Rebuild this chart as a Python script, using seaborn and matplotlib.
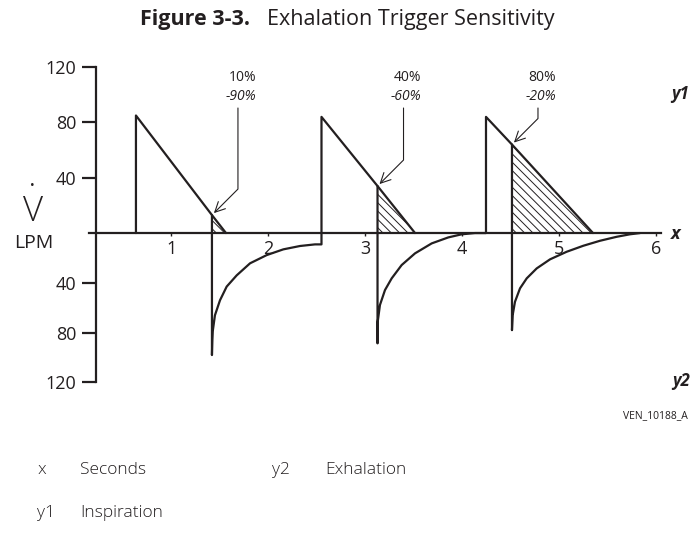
import numpy as np
import pandas as pd
import seaborn as sns
import matplotlib.pyplot as plt

# breath timing (seconds) and flow (LPM)
insp_start = [0.637, 2.551, 4.248]
insp_peak = [85, 84, 84]
trigger_t = [1.421, 3.129, 4.516]
trigger_flow = [13, 34, 64]
ramp_zero = [1.566, 3.516, 5.352]
trigger_pct = ["10%", "40%", "80%"]
trigger_neg = ["-90%", "-60%", "-20%"]

# exhalation curves (first point is the bottom of the drop at the trigger)
exh1_t = [1.421, 1.425, 1.429, 1.452, 1.504, 1.573, 1.676, 1.814, 1.986, 2.157, 2.329, 2.484, 2.551]
exh1_flow = [-98, -86, -79, -66, -54, -43, -34, -24.3, -17.7, -13.1, -10.4, -9.1, -9.1]
exh2_t = [3.129, 3.131, 3.154, 3.206, 3.275, 3.378, 3.516, 3.688, 3.859, 3.997, 4.134, 4.248]
exh2_flow = [-88.6, -71.2, -57.8, -45.8, -36.4, -25.7, -16.3, -8.3, -3.5, -1.0, 0, 0]
exh3_t = [4.516, 4.523, 4.547, 4.599, 4.668, 4.771, 4.909, 5.081, 5.252, 5.424, 5.596, 5.733, 5.837]
exh3_flow = [-78, -66, -55.2, -44.4, -36.4, -28.4, -21.1, -15.0, -10.2, -6.2, -3.0, -1.0, 0]

x_ticks = [1, 2, 3, 4, 5, 6]
y_ticks = [120, 80, 40, -40, -80, -120]
y_tick_labels = ["120", "80", "40", "40", "80", "120"]

W, H = 693, 546
INK = "#231f20"

sns.set_theme(style="white")
plt.rcParams["font.family"] = ["Open Sans", "DejaVu Sans"]
plt.rcParams["hatch.linewidth"] = 0.7

fig = plt.figure(figsize=(W / 100, H / 100), dpi=100)
ax = fig.add_axes([0, 0, 1, 1])
ax.patch.set_alpha(0)


# exhalation half of the drawing is a bit compressed in the original
def fwd(y):
    y = np.asarray(y, dtype=float)
    return np.where(y >= 0, y, 0.9 * y)


def inv(u):
    u = np.asarray(u, dtype=float)
    return np.where(u >= 0, u, u / 0.9)


ax.set_yscale("function", functions=(fwd, inv))
ax.set_xlim(-0.7654, 6.3834)
ax.set_ylim(-251.4, 168.5)

# build the trace as segments
exh_t = [exh1_t, exh2_t, exh3_t]
exh_f = [exh1_flow, exh2_flow, exh3_flow]
rows = [(0, insp_start[0], 0)]
for i in range(3):
    rows.append((0, insp_start[i], insp_peak[i]))
    rows.append((0, trigger_t[i], trigger_flow[i]))
    for t, f in zip(exh_t[i], exh_f[i]):
        rows.append((0, t, f))
for i in range(3):
    rows.append((i + 1, trigger_t[i], trigger_flow[i]))
    rows.append((i + 1, ramp_zero[i], 0))
df = pd.DataFrame(rows, columns=["seg", "t", "flow"])

sns.lineplot(data=df, x="t", y="flow", units="seg", estimator=None, sort=False,
             color=INK, lw=1.6, ax=ax, legend=False)

# hatched triangles after the trigger
for i in range(3):
    ax.fill([trigger_t[i], trigger_t[i], ramp_zero[i]], [0, trigger_flow[i], 0],
            facecolor="none", edgecolor=INK, hatch="\\\\\\\\", lw=0)

# axes
for s in ["top", "right"]:
    ax.spines[s].set_visible(False)
ax.spines["left"].set_position(("data", 0.225))
ax.spines["left"].set_bounds(-120, 120)
ax.spines["bottom"].set_position(("data", 0))
ax.spines["bottom"].set_bounds(0.15, 6.05)
for s in ["left", "bottom"]:
    ax.spines[s].set_color(INK)
    ax.spines[s].set_linewidth(1.6)

ax.set_yticks(y_ticks)
ax.set_yticklabels(y_tick_labels)
ax.set_xticks(x_ticks)
ax.set_xticklabels([str(v) for v in x_ticks])
ax.minorticks_off()
ax.tick_params(axis="y", left=True, direction="out", length=10, width=1.6,
               color=INK, labelcolor=INK, labelsize=13, pad=4)
ax.tick_params(axis="x", bottom=True, direction="out", length=2.5, width=1,
               color=INK, labelcolor=INK, labelsize=13, pad=2.5)
ax.set_xlabel("")
ax.set_ylabel("")
ax.grid(False)


def fx(px):
    return px / W


def fy(py):
    return 1 - py / H


# trigger annotations
fig.canvas.draw()
for i in range(3):
    tx, ty = ax.transData.transform((trigger_t[i], trigger_flow[i]))
    ax.annotate("", xy=(trigger_t[i], trigger_flow[i]), xycoords="data",
                xytext=(tx + 26, H - 108), textcoords="figure pixels",
                arrowprops=dict(arrowstyle="->,head_length=0.6,head_width=0.3",
                                connectionstyle="angle,angleA=90,angleB=45,rad=0",
                                color=INK, lw=0.8, shrinkA=0, shrinkB=2))
    fig.text(fx(tx + 44), fy(78), trigger_pct[i], ha="right", va="center",
             fontsize=10, color=INK)
    fig.text(fx(tx + 44), fy(96), trigger_neg[i], ha="right", va="center",
             fontsize=10, style="italic", color=INK)

# labels
fig.text(fx(140), fy(20), "Figure 3-3.", ha="left", va="center", fontsize=15.5,
         weight="bold", color=INK)
fig.text(fx(267), fy(20), "Exhalation Trigger Sensitivity", ha="left", va="center",
         fontsize=15.5, color=INK)
fig.text(fx(33), fy(212), "V", ha="center", va="center", fontsize=25,
         weight="light", color=INK)
fig.text(fx(32.5), fy(185), "\u2022", ha="center", va="center", fontsize=9, color=INK)
fig.text(fx(33.5), fy(243), "LPM", ha="center", va="center", fontsize=14, color=INK)
fig.text(fx(680), fy(94), "y1", ha="center", va="center", fontsize=12,
         weight="bold", style="italic", color=INK)
fig.text(fx(676), fy(234), "x", ha="center", va="center", fontsize=13,
         weight="bold", style="italic", color=INK)
fig.text(fx(681), fy(381), "y2", ha="center", va="center", fontsize=12,
         weight="bold", style="italic", color=INK)
fig.text(fx(688), fy(416), "VEN_10188_A", ha="right", va="center", fontsize=7.5,
         color=INK)

legend_items = [("x", "Seconds", 38, 80, 470), ("y2", "Exhalation", 272, 325, 470),
                ("y1", "Inspiration", 37, 80, 513)]
for key, desc, kx, dx, yy in legend_items:
    fig.text(fx(kx), fy(yy), key, ha="left", va="center", fontsize=12.5,
             weight="light", color=INK)
    fig.text(fx(dx), fy(yy), desc, ha="left", va="center", fontsize=12.5,
             weight="light", color=INK)

fig.savefig("out.png", dpi=100)
